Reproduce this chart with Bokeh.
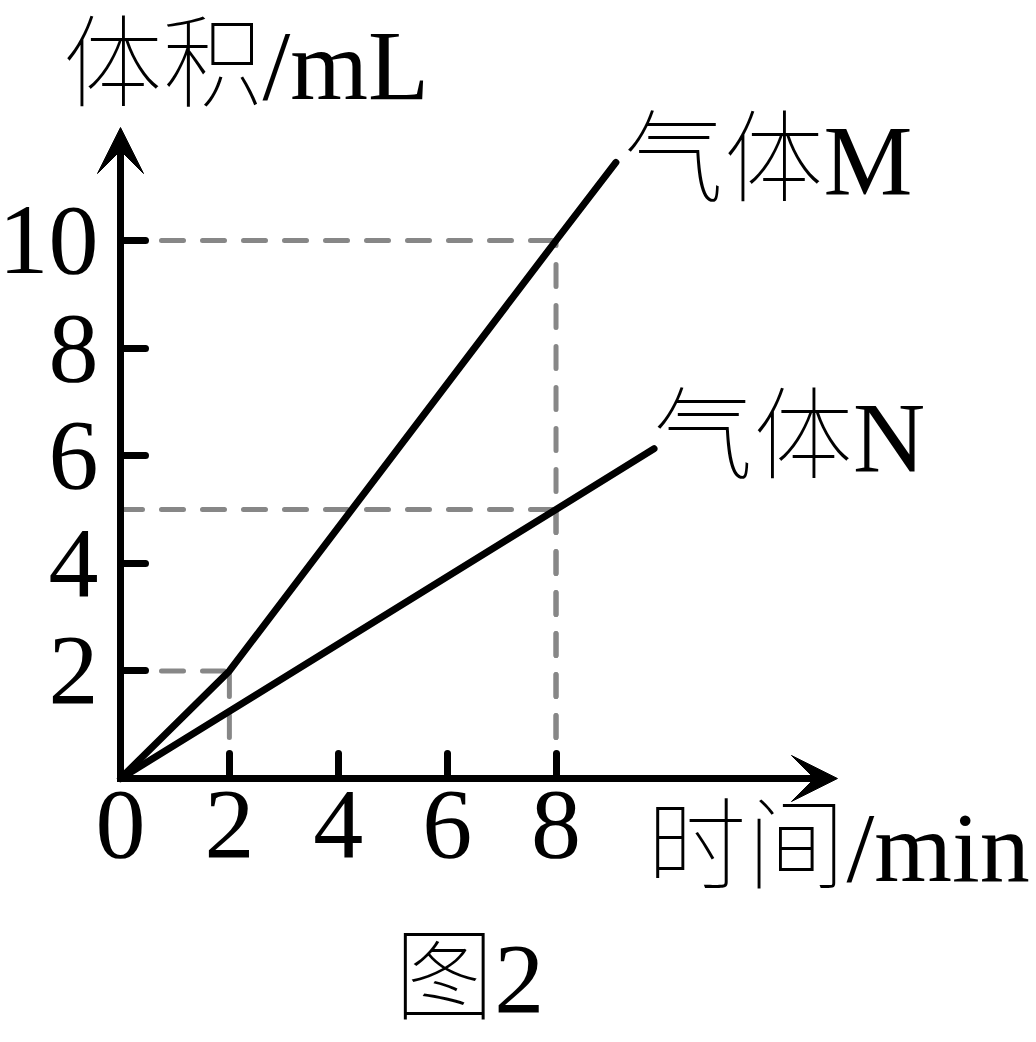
from bokeh.plotting import figure
from bokeh.models import Range1d, FixedTicker, Arrow, VeeHead, Label
from bokeh.embed import file_html
from bokeh.resources import INLINE

# ---- data ----
time_m = [0, 2, 8, 9.1]
vol_m = [0, 2, 10, 11.45]
time_n = [0, 8, 9.8]
vol_n = [0, 5, 6.13]
x_ticks = [0, 2, 4, 6, 8]
y_ticks = [2, 4, 6, 8, 10]
guide_x = [8, 8, 2]
guide_y = [10, 5, 2]
x_axis_end = 13.17
y_axis_end = 12.1
y_title = "体积/mL"
x_title = "时间/min"
series_names = ["气体M", "气体N"]
caption = "图2"

# ---- layout ----
W, H = 1032, 1040
OX, OY = 120, 778          # pixel position of the origin (from top-left)
UX, UY = 54.44, 53.8       # pixels per data unit

p = figure(width=W, height=H,
           x_range=Range1d(-OX / UX, (W - OX) / UX),
           y_range=Range1d(-(H - OY) / UY, OY / UY),
           output_backend="svg", toolbar_location=None,
           min_border_left=0, min_border_bottom=0,
           min_border_top=0, min_border_right=0)
p.outline_line_color = None
p.grid.visible = False
p.background_fill_color = "white"
p.border_fill_color = "white"

for ax in (p.xaxis[0], p.yaxis[0]):
    ax.fixed_location = 0
    ax.axis_line_width = 7
    ax.axis_line_color = "black"
    ax.axis_line_cap = "square"
    ax.major_tick_in = 25
    ax.major_tick_out = 0
    ax.major_tick_line_width = 7
    ax.major_tick_line_color = "black"
    ax.major_tick_line_cap = "round"
    ax.minor_tick_line_color = None
    ax.major_label_text_font = "Liberation Serif"
    ax.major_label_text_font_size = "100px"
    ax.major_label_text_color = "black"

p.xaxis.ticker = FixedTicker(ticks=x_ticks)
p.yaxis.ticker = FixedTicker(ticks=y_ticks)
p.xaxis.major_label_overrides = {t: str(t) for t in x_ticks}
p.yaxis.major_label_overrides = {t: str(t) for t in y_ticks}
p.xaxis.bounds = (0, x_axis_end - 0.3)
p.yaxis.bounds = (0, y_axis_end - 0.3)
p.yaxis.major_label_standoff = 22
p.xaxis.major_label_standoff = 13

# axis arrows
p.add_layout(Arrow(end=VeeHead(size=46, fill_color="black", line_color="black", line_width=1),
                   x_start=x_axis_end - 0.5, y_start=0, x_end=x_axis_end, y_end=0,
                   line_width=7, line_color="black"))
p.add_layout(Arrow(end=VeeHead(size=46, fill_color="black", line_color="black", line_width=1),
                   x_start=0, y_start=y_axis_end - 0.5, x_end=0, y_end=y_axis_end,
                   line_width=7, line_color="black"))

# dashed guides
hx0 = [0] * len(guide_x)
vy0 = [0] * len(guide_y)
dash = dict(line_color="#878787", line_width=5, line_dash="22 19", line_cap="round")
p.segment(x0=hx0, y0=guide_y, x1=guide_x, y1=guide_y, **dash)
p.segment(x0=guide_x, y0=vy0, x1=guide_x, y1=guide_y, **dash)

# data lines
p.line(time_m, vol_m, line_width=7, line_color="black", line_join="round", line_cap="round")
p.line(time_n, vol_n, line_width=7, line_color="black", line_join="round", line_cap="round")

FONT = "Liberation Serif, Noto Sans CJK SC"
YC = 35 / UY   # baseline correction
def lab(x, y, t, size="100px"):
    p.add_layout(Label(x=x, y=y + YC, text=t, text_font=FONT, text_font_size=size,
                       text_color="black", text_align="left", text_baseline="alphabetic"))

lab(9.24, 10.84, series_names[0])
lab(9.78, 5.69, series_names[1])
lab(9.66, -1.93, x_title)
lab(-1.065, 12.60, y_title)
lab(5.03, -4.37, caption)

open("out.html", "w").write(file_html(p, INLINE))
